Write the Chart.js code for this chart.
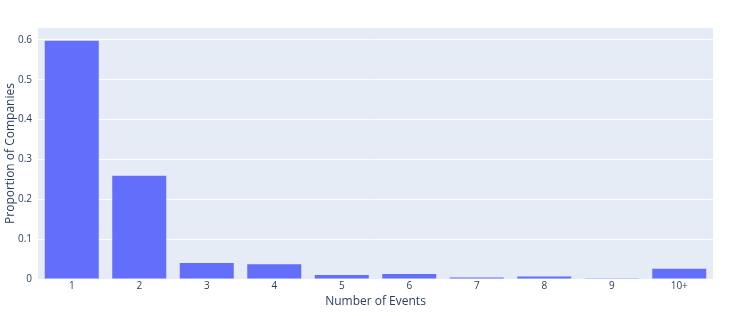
<!DOCTYPE html>
<html lang="en">
<head>
    <meta charset="UTF-8">
    <title>Number of Events</title>
    <script src="https://cdn.jsdelivr.net/npm/chart.js"></script>
    <style>
        html, body { margin: 0; padding: 0; background: #fff; }
        .conteudo-grafico { width: 750px; height: 316px; }
    </style>
</head>
<body>
    <div class="conteudo-grafico">
        <canvas id="chartBar"></canvas>
    </div>

<script>
    // dados
    var eventos = ['1', '2', '3', '4', '5', '6', '7', '8', '9', '10+'];
    var proporcao = [0.598, 0.259, 0.040, 0.037, 0.010, 0.0125, 0.0035, 0.006, 0.002, 0.026];
    var ticksY = [0, 0.1, 0.2, 0.3, 0.4, 0.5, 0.6];

    var corTexto = '#2a3f5f';

    // fundo da área do gráfico (estilo plotly)
    var fundoPlot = {
        id: 'fundoPlot',
        beforeDraw: function (chart) {
            var a = chart.chartArea;
            var ctx = chart.ctx;
            ctx.save();
            ctx.fillStyle = '#e5ecf6';
            ctx.fillRect(a.left, a.top, a.right - a.left, a.bottom - a.top);
            ctx.restore();
        }
    };

    var ctxBar = document.getElementById('chartBar').getContext('2d');
    var configBar = {
        type: 'bar',
        data: {
            labels: eventos,
            datasets: [{
                label: 'Proportion of Companies',
                data: proporcao,
                backgroundColor: '#636efa',
                borderWidth: 0,
                categoryPercentage: 0.8,
                barPercentage: 1.0
            }]
        },
        options: {
            responsive: true,
            maintainAspectRatio: false,
            animation: false,
            layout: { padding: { left: 0, right: 37, top: 28, bottom: 0 } },
            plugins: {
                legend: { display: false },
                tooltip: { enabled: false }
            },
            scales: {
                x: {
                    grid: { display: false, drawTicks: false },
                    border: { display: false },
                    ticks: { color: corTexto, font: { family: 'Open Sans', size: 10 }, padding: 1, maxRotation: 0 },
                    title: { display: true, text: 'Number of Events', color: corTexto, font: { family: 'Open Sans', size: 12 }, padding: { top: 0, bottom: 7.5 } },
                    afterFit: function (scale) { scale.height = 37; }
                },
                y: {
                    min: 0,
                    max: 0.63,
                    grid: { color: '#ffffff', lineWidth: 1, drawTicks: false },
                    border: { display: false },
                    afterBuildTicks: function (scale) {
                        scale.ticks = ticksY.map(function (v) { return { value: v }; });
                    },
                    ticks: { color: corTexto, font: { family: 'Open Sans', size: 10 }, padding: 6 },
                    title: { display: true, text: 'Proportion of Companies', color: corTexto, font: { family: 'Open Sans', size: 12 }, padding: { top: 3, bottom: 0 } },
                    afterFit: function (scale) { scale.width = 38; }
                }
            }
        },
        plugins: [fundoPlot]
    };

    var ax_chartBar = new Chart(ctxBar, configBar);
</script>
</body>
</html>
